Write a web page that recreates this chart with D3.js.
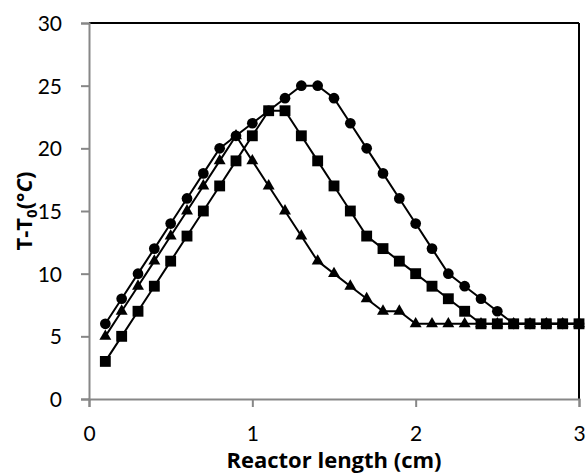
<!DOCTYPE html>
<html>
<head>
<meta charset="utf-8">
<script src="https://cdn.jsdelivr.net/npm/d3@7"></script>
<style>
  html, body { margin: 0; padding: 0; background: #fff; }
  svg { display: block; }
  text { font-family: Lato, "Open Sans", sans-serif; fill: #000; }
  .title { font-family: "Open Sans", Lato, sans-serif; font-weight: bold; font-size: 22px; }
</style>
</head>
<body>
<svg id="chart" width="586" height="473"></svg>
<script>
// Reactor position (cm)
const lengthCm = [0.1, 0.2, 0.3, 0.4, 0.5, 0.6, 0.7, 0.8, 0.9, 1.0,
                  1.1, 1.2, 1.3, 1.4, 1.5, 1.6, 1.7, 1.8, 1.9, 2.0,
                  2.1, 2.2, 2.3, 2.4, 2.5, 2.6, 2.7, 2.8, 2.9, 3.0];
// Temperature rise T-T0 (°C) for each profile
const circleSeries   = [6, 8, 10, 12, 14, 16, 18, 20, 21, 22,
                        23, 24, 25, 25, 24, 22, 20, 18, 16, 14,
                        12, 10, 9, 8, 7, 6, 6, 6, 6, 6];
const squareSeries   = [3, 5, 7, 9, 11, 13, 15, 17, 19, 21,
                        23, 23, 21, 19, 17, 15, 13, 12, 11, 10,
                        9, 8, 7, 6, 6, 6, 6, 6, 6, 6];
const triangleSeries = [5, 7, 9, 11, 13, 15, 17, 19, 21, 19,
                        17, 15, 13, 11, 10, 9, 8, 7, 7, 6,
                        6, 6, 6, 6, 6, 6, 6, 6, 6, 6];
const xTicks = [0, 1, 2, 3];
const yTicks = [0, 5, 10, 15, 20, 25, 30];

const svg = d3.select("#chart");
const plotLeft = 89, plotRight = 579, plotTop = 23, plotBottom = 399;

const x = d3.scaleLinear().domain([0, 3]).range([plotLeft, plotRight]);
const y = d3.scaleLinear().domain([0, 30]).range([plotBottom, plotTop]);

// frame: black top and right edges
svg.append("line").attr("x1", plotLeft).attr("x2", plotRight).attr("y1", plotTop).attr("y2", plotTop)
  .attr("stroke", "#000").attr("stroke-width", 2);
svg.append("line").attr("x1", plotRight).attr("x2", plotRight).attr("y1", plotTop).attr("y2", plotBottom)
  .attr("stroke", "#000").attr("stroke-width", 2);

// axes
const axisColor = "#878787";
const yAxis = svg.append("g").attr("transform", `translate(${plotLeft},0)`)
  .call(d3.axisLeft(y).tickValues(yTicks).tickSize(8).tickPadding(19).tickFormat(d3.format("d")));
const xAxis = svg.append("g").attr("transform", `translate(0,${plotBottom})`)
  .call(d3.axisBottom(x).tickValues(xTicks).tickSize(8).tickPadding(19).tickFormat(d3.format("d")));
[xAxis, yAxis].forEach(g => {
  g.select(".domain").attr("stroke", axisColor).attr("stroke-width", 2);
  g.selectAll(".tick line").attr("stroke", axisColor).attr("stroke-width", 2);
  g.selectAll(".tick text").style("font-family", "Lato, 'Open Sans', sans-serif")
    .style("font-size", "21px").attr("fill", "#000");
});
yAxis.selectAll(".tick text").attr("dy", "0.35em");
xAxis.selectAll(".tick text").attr("dy", "0.71em");

// axis titles
svg.append("text")
  .attr("class", "title")
  .attr("x", 334).attr("y", 468)
  .attr("text-anchor", "middle")
  .text("Reactor length (cm)");

const yt = svg.append("text")
  .attr("class", "title")
  .attr("transform", "translate(32,211) rotate(-90)")
  .attr("text-anchor", "middle");
yt.append("tspan").text("T-T");
yt.append("tspan").attr("dy", 5).style("font-size", "15px").text("0");
yt.append("tspan").attr("dy", -5).text("(");
yt.append("tspan").style("font-style", "italic").text("°C");
yt.append("tspan").text(")");

// series: lines then markers
const series = [
  { values: triangleSeries, symbol: d3.symbolTriangle, size: 62 },
  { values: circleSeries,   symbol: d3.symbolCircle,   size: 90 },
  { values: squareSeries,   symbol: d3.symbolSquare,   size: 118 }
];

const line = d3.line().x(d => x(d[0])).y(d => y(d[1]));

series.forEach(s => {
  const pts = lengthCm.map((l, i) => [l, s.values[i]]);
  const g = svg.append("g");
  g.append("path").attr("d", line(pts))
    .attr("fill", "none").attr("stroke", "#000").attr("stroke-width", 2);
  g.selectAll("path.mk").data(pts).join("path")
    .attr("class", "mk")
    .attr("transform", d => `translate(${x(d[0])},${y(d[1])})`)
    .attr("d", d3.symbol().type(s.symbol).size(s.size))
    .attr("fill", "#000");
});
</script>
</body>
</html>
